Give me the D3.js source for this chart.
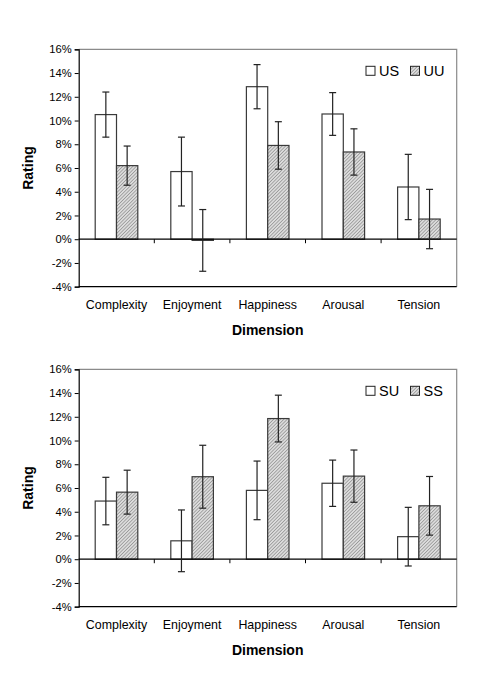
<!DOCTYPE html>
<html><head><meta charset="utf-8">
<script src="https://cdn.jsdelivr.net/npm/d3@7"></script>
<style>body{margin:0;background:#fff;} svg{display:block;font-family:"Liberation Sans",Arial,sans-serif;}</style>
</head><body>
<svg id="c" width="495" height="675"></svg>
<script>
const categories = ["Complexity","Enjoyment","Happiness","Arousal","Tension"];
const yTicks = [-4,-2,0,2,4,6,8,10,12,14,16];

const topSeries = ["US","UU"];
const usValues = [10.5, 5.7, 12.85, 10.55, 4.4];
const usErrors = [1.9, 2.9, 1.86, 1.8, 2.75];
const uuValues = [6.2, -0.1, 7.9, 7.35, 1.7];
const uuErrors = [1.65, 2.6, 2.0, 1.95, 2.5];

const bottomSeries = ["SU","SS"];
const suValues = [4.9, 1.55, 5.8, 6.4, 1.9];
const suErrors = [2.0, 2.6, 2.47, 1.95, 2.47];
const ssValues = [5.65, 6.95, 11.85, 7.0, 4.5];
const ssErrors = [1.85, 2.65, 1.97, 2.2, 2.47];

const svg = d3.select("#c");
const defs = svg.append("defs");
const pat = defs.append("pattern").attr("id","hatch").attr("patternUnits","userSpaceOnUse")
  .attr("width",2.4).attr("height",2.4).attr("patternTransform","rotate(45)");
pat.append("rect").attr("width",2.4).attr("height",2.4).attr("fill","#dcdcdc");
pat.append("line").attr("x1",0).attr("y1",0).attr("x2",0).attr("y2",2.4).attr("stroke","#7a7a7a").attr("stroke-width",1.1);

function drawChart(top, series, vals, errs){
  const L = 78.7, R = 456.7, T = top, B = top + 237.4;
  const y = d3.scaleLinear().domain([-4,16]).range([B,T]);
  const x0 = d3.scaleBand().domain(categories).range([L,R]).padding(0);
  const x1 = d3.scaleBand().domain(series).range([0,x0.bandwidth()]).paddingInner(0).paddingOuter(0.775);
  const g = svg.append("g");

  g.append("path").attr("d",`M${L},${T}H${R}V${B}`).attr("fill","none").attr("stroke","#8a8a8a").attr("stroke-width",1.2);

  const ya = g.append("g").attr("transform",`translate(${L},0)`)
    .call(d3.axisLeft(y).tickValues(yTicks).tickSize(4).tickPadding(3).tickFormat(d=>d+"%"));
  ya.select(".domain").attr("stroke","#000").attr("stroke-width",1.2);
  ya.selectAll(".tick line").attr("stroke","#000");
  ya.selectAll("text").attr("font-size",11.2).attr("font-family","Liberation Sans, Arial, sans-serif").attr("fill","#000");

  g.append("line").attr("x1",L).attr("x2",R).attr("y1",B).attr("y2",B).attr("stroke","#000").attr("stroke-width",1.2);

  const data = [];
  categories.forEach((c,i)=>series.forEach((s,j)=>data.push({c,s,j,v:vals[j][i],e:errs[j][i]})));
  g.selectAll("rect.bar").data(data).join("rect").attr("class","bar")
    .attr("x",d=>x0(d.c)+x1(d.s)).attr("width",x1.bandwidth())
    .attr("y",d=>y(Math.max(0,d.v))).attr("height",d=>Math.abs(y(d.v)-y(0)))
    .attr("fill",d=>d.j===0?"#fff":"url(#hatch)").attr("stroke","#3a3a3a").attr("stroke-width",1.2);

  g.append("line").attr("x1",L).attr("x2",R).attr("y1",y(0)).attr("y2",y(0)).attr("stroke","#000").attr("stroke-width",1.2);
  g.selectAll("line.ct").data(categories.slice(1)).join("line").attr("class","ct")
    .attr("x1",d=>x0(d)).attr("x2",d=>x0(d)).attr("y1",y(0)).attr("y2",y(0)+4).attr("stroke","#000");

  const eb = g.selectAll("g.eb").data(data).join("g").attr("class","eb")
    .attr("transform",d=>`translate(${x0(d.c)+x1(d.s)+x1.bandwidth()/2},0)`).attr("stroke","#222").attr("stroke-width",1.2);
  eb.append("line").attr("y1",d=>y(d.v+d.e)).attr("y2",d=>y(d.v-d.e));
  eb.append("line").attr("x1",-3.5).attr("x2",3.5).attr("y1",d=>y(d.v+d.e)).attr("y2",d=>y(d.v+d.e));
  eb.append("line").attr("x1",-3.5).attr("x2",3.5).attr("y1",d=>y(d.v-d.e)).attr("y2",d=>y(d.v-d.e));

  g.selectAll("text.cl").data(categories).join("text").attr("class","cl")
    .attr("x",d=>x0(d)+x0.bandwidth()/2).attr("y",B+22).attr("text-anchor","middle")
    .attr("font-size",12.4).attr("fill","#000").text(d=>d);

  g.append("text").attr("x",(L+R)/2).attr("y",B+48).attr("text-anchor","middle")
    .attr("font-size",14).attr("font-weight","bold").text("Dimension");
  g.append("text").attr("transform",`translate(33,${(T+B)/2})rotate(-90)`).attr("text-anchor","middle")
    .attr("font-size",14).attr("font-weight","bold").text("Rating");

  const lg = g.append("g").attr("transform",`translate(366,${T+17})`);
  series.forEach((s,j)=>{
    const ox = j*44.5;
    lg.append("rect").attr("x",ox).attr("y",0).attr("width",9).attr("height",9)
      .attr("fill",j===0?"#fff":"url(#hatch)").attr("stroke","#222").attr("stroke-width",1);
    lg.append("text").attr("x",ox+13).attr("y",9.5).attr("font-size",14.5).attr("fill","#000").text(s);
  });
}

drawChart(49.3, topSeries, [usValues,uuValues], [usErrors,uuErrors]);
drawChart(369.3, bottomSeries, [suValues,ssValues], [suErrors,ssErrors]);
</script>
</body></html>
